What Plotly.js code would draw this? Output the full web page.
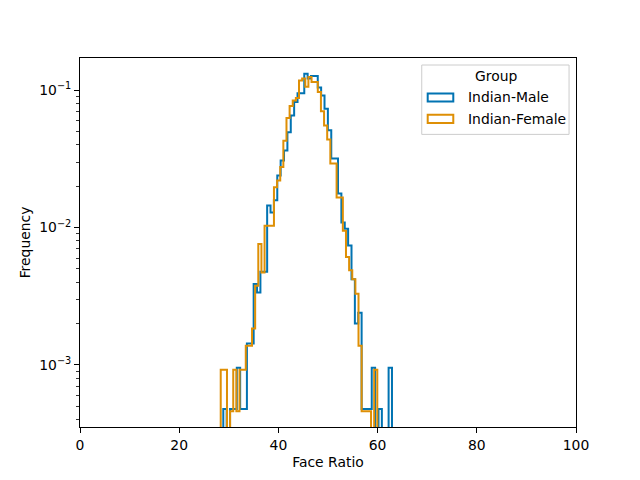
<!DOCTYPE html>
<html>
<head>
<meta charset="utf-8">
<script src="https://cdn.plot.ly/plotly-3.0.1.min.js"></script>
<style>
  html, body { margin: 0; padding: 0; background: #fff; }
  #chart { width: 640px; height: 480px; }
</style>
</head>
<body>
<div id="chart"></div>
<script>
// ---- data ----
const GROUPS = ["Indian-Male", "Indian-Female"];
const COLORS = ["#0173B2", "#DE8F05"];

// histogram ranges (first edge, last edge), 50 bins each
const MALE_RANGE = [28.89, 62.9];
const FEMALE_RANGE = [28.37, 59.94];

const MALE_FREQ = [
  0.000477, 0, 0.000477, 0.000477, 0.000955, 0.000477, 0.000477, 0.00143, 0.00143, 0.00388,
  0.00337, 0.00477, 0.00477, 0.0145, 0.0129, 0.0158, 0.0240, 0.0308, 0.0365, 0.0496,
  0.0657, 0.0821, 0.0951, 0.0951, 0.132, 0.122, 0.127, 0.127, 0.105, 0.0919,
  0.0735, 0.0511, 0.0319, 0.0319, 0.0177, 0.0109, 0.0098, 0.0074, 0.0042, 0.0020,
  0.0024, 0.000477, 0.000477, 0.000477, 0.000955, 0, 0.000477, 0, 0, 0.000955,
];

const FEMALE_FREQ = [
  0.00092, 0.00092, 0, 0.00046, 0.00092, 0.00046, 0.00092, 0.00092, 0.00138, 0.00138,
  0.00184, 0.00377, 0.0076, 0.00472, 0.0103, 0.0103, 0.0103, 0.0197, 0.0220, 0.0276,
  0.0430, 0.0628, 0.0768, 0.0845, 0.0879, 0.118, 0.122, 0.106, 0.125, 0.115,
  0.115, 0.0972, 0.0703, 0.0555, 0.0439, 0.0293, 0.0293, 0.0166, 0.0166, 0.0095,
  0.0061, 0.0049, 0.0042, 0.0033, 0.00138, 0.00046, 0.00046, 0.00046, 0, 0.00092,
];

const X_TICKS = [0, 20, 40, 60, 80, 100];
const Y_TICKS = [0.001, 0.01, 0.1];
const Y_TICK_LABELS = ["10<sup>\u22123</sup>", "10<sup>\u22122</sup>", "10<sup>\u22121</sup>"];

// ---- drawing ----
const FONT = "DejaVu Sans, Liberation Sans, sans-serif";
const FLOOR = 1e-6; // empty bins drop below the axis, like matplotlib

document.addEventListener("DOMContentLoaded", () => {
  renderHistogram();
});

function stepTrace(range, freq, color) {
  const width = (range[1] - range[0]) / freq.length;
  const x = [range[0]];
  const y = [FLOOR];

  freq.forEach((value, i) => {
    x.push(range[0] + i * width);
    y.push(value > 0 ? value : FLOOR);
  });
  x.push(range[1]);
  y.push(FLOOR);

  return {
    type: "scatter",
    mode: "lines",
    x,
    y,
    line: { color, width: 2, shape: "hv" },
    showlegend: false,
    hoverinfo: "skip",
  };
}

function minorLogTicks() {
  const vals = [];
  [1e-4, 1e-3, 1e-2, 1e-1].forEach((decade) => {
    for (let m = 2; m <= 9; m++) vals.push(m * decade);
  });
  return vals;
}

function legendParts() {
  // paper coords: x 0..1 -> 80..576 px, y 0..1 -> 427..58 px
  const shapes = [
    {
      type: "rect", xref: "paper", yref: "paper",
      x0: 0.689, x1: 0.986, y0: 0.793, y1: 0.981,
      line: { color: "#cccccc", width: 1 },
      fillcolor: "rgba(255,255,255,0.8)",
      layer: "above",
    },
  ];
  const annotations = [
    {
      xref: "paper", yref: "paper", x: 0.838, y: 0.951,
      text: "Group", showarrow: false, xanchor: "center", yanchor: "middle",
      font: { family: FONT, size: 13.9, color: "#000" },
    },
  ];
  const rows = [0.893, 0.835];

  GROUPS.forEach((name, i) => {
    shapes.push({
      type: "rect", xref: "paper", yref: "paper",
      x0: 0.701, x1: 0.7526, y0: rows[i] - 0.011, y1: rows[i] + 0.011,
      line: { color: COLORS[i], width: 2 },
      fillcolor: "rgba(0,0,0,0)",
      layer: "above",
    });
    annotations.push({
      xref: "paper", yref: "paper", x: 0.7776, y: rows[i],
      text: name, showarrow: false, xanchor: "left", yanchor: "middle",
      font: { family: FONT, size: 13.9, color: "#000" },
    });
  });

  return { shapes, annotations };
}

function renderHistogram() {
  const traces = [
    stepTrace(MALE_RANGE, MALE_FREQ, COLORS[0]),
    stepTrace(FEMALE_RANGE, FEMALE_FREQ, COLORS[1]),
  ];

  const legend = legendParts();
  const axisBase = {
    showgrid: false,
    zeroline: false,
    showline: true,
    mirror: true,
    linecolor: "#000",
    linewidth: 1,
    ticks: "outside",
    ticklen: 5,
    tickwidth: 1,
    tickcolor: "#000",
    tickfont: { family: FONT, size: 13.9, color: "#000" },
    automargin: false,
  };

  const layout = {
    width: 640,
    height: 480,
    margin: { l: 80, r: 64, t: 58, b: 53 },
    paper_bgcolor: "#fff",
    plot_bgcolor: "#fff",
    font: { family: FONT, size: 13.9, color: "#000" },
    showlegend: false,
    xaxis: {
      ...axisBase,
      range: [0, 100],
      tickmode: "array",
      tickvals: X_TICKS,
      title: { text: "Face Ratio", font: { family: FONT, size: 13.9 }, standoff: 5 },
    },
    yaxis: {
      ...axisBase,
      type: "log",
      range: [-3.4524, -0.7644],
      tickmode: "array",
      tickvals: Y_TICKS,
      ticktext: Y_TICK_LABELS,
      minor: {
        tickmode: "array",
        tickvals: minorLogTicks(),
        ticks: "outside",
        ticklen: 3,
        tickwidth: 0.8,
        tickcolor: "#000",
      },
      title: { text: "Frequency", font: { family: FONT, size: 13.9 }, standoff: 5 },
    },
    shapes: legend.shapes,
    annotations: legend.annotations,
  };

  Plotly.newPlot("chart", traces, layout, { displayModeBar: false, staticPlot: true });
}
</script>
</body>
</html>
